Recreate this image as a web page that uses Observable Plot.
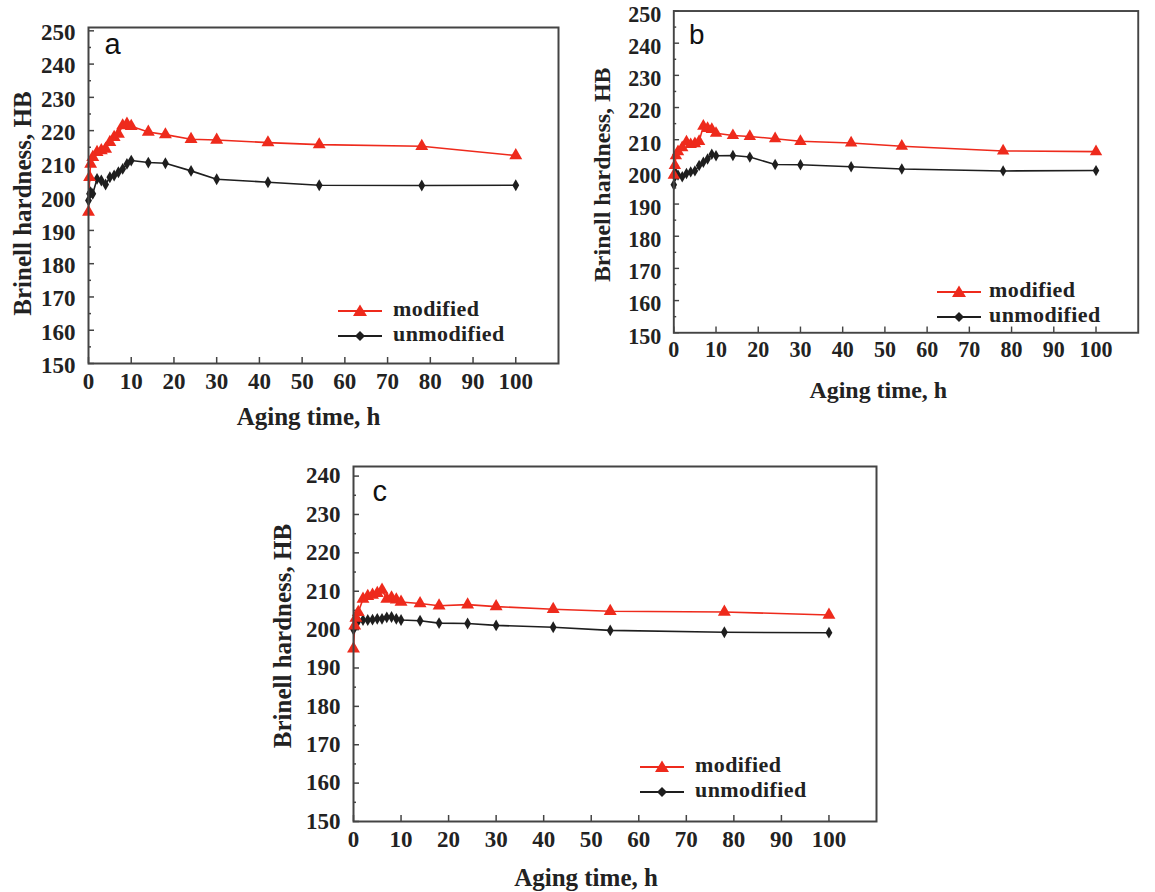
<!DOCTYPE html>
<html><head><meta charset="utf-8">
<script src="https://cdn.jsdelivr.net/npm/d3@7"></script>
<script src="https://cdn.jsdelivr.net/npm/@observablehq/plot@0.6"></script>
<style>
html,body{margin:0;padding:0;background:#fff;}
#wrap{position:relative;width:1155px;height:892px;overflow:hidden;background:#fff;}
.panel{position:absolute;}
.panel svg{display:block;}
.leg{position:absolute;font-family:"Liberation Serif","Times New Roman",serif;font-weight:bold;font-size:22px;letter-spacing:0.4px;color:#222;line-height:20px;height:20px;white-space:nowrap;}
.legsym{position:absolute;}
</style>
</head><body>
<div id="wrap"></div>
<script>
// ---- data ----
const times = [0, 0.25, 0.5, 1, 2, 3, 4, 5, 6, 7, 8, 9, 10, 14, 18, 24, 30, 42, 54, 78, 100];
const modifiedA   = [195.5, 206, 210, 212, 213.5, 214, 214.5, 216.5, 218, 219, 221.5, 222, 221.3, 219.6, 218.8, 217.4, 217.2, 216.4, 215.8, 215.3, 212.5];
const unmodifiedA = [199, 201, 201.5, 201, 205.5, 205, 203.8, 206, 206.5, 207.5, 208.5, 210, 211, 210.4, 210.2, 207.9, 205.4, 204.5, 203.6, 203.5, 203.6];
const modifiedB   = [199, 202, 205, 206.3, 207.5, 209.3, 208.5, 208.8, 209.5, 214.2, 213.5, 213.2, 212, 211.3, 211, 210.3, 209.5, 209, 208, 206.5, 206.3];
const unmodifiedB = [196, 198.5, 199.5, 199, 198.5, 199.5, 200, 200.3, 202, 203, 204, 205.5, 205, 205.1, 204.6, 202.3, 202.2, 201.6, 200.9, 200.3, 200.4];
const modifiedC   = [195, 201, 203, 204.5, 208, 208.7, 209, 209.5, 210.3, 208, 208.3, 207.8, 207.2, 206.8, 206.2, 206.5, 206, 205.3, 204.8, 204.6, 203.8];
const unmodifiedC = [200, 201, 202, 202.3, 202.5, 202.5, 202.6, 202.8, 202.8, 203.2, 203.3, 202.8, 202.5, 202.3, 201.7, 201.6, 201.1, 200.6, 199.8, 199.3, 199.2];
const xTicks   = [0, 10, 20, 30, 40, 50, 60, 70, 80, 90, 100];
const yTicksAB = [150, 160, 170, 180, 190, 200, 210, 220, 230, 240, 250];
const yTicksC  = [150, 160, 170, 180, 190, 200, 210, 220, 230, 240];
const seriesNames = ["modified", "unmodified"];
const xTitle = "Aging time, h";
const yTitle = "Brinell hardness, HB";

const RED = "#ee2a1c", BLACK = "#1e1e1e";
const serif = "'Liberation Serif','Times New Roman',serif";

function rows(vals){ return times.map((t,i)=>({t, v: vals[i]})); }

function panel(o){
  const plotW = o.width - o.ml - o.mr, plotH = o.height - o.mt - o.mb;
  const minor = o.yTicks.slice(0,-1).map(d=>d+5).filter(d=>d<o.yMax);
  const m = rows(o.mod), u = rows(o.unmod);
  const chart = Plot.plot({
    width: o.width, height: o.height,
    marginLeft: o.ml, marginRight: o.mr, marginTop: o.mt, marginBottom: o.mb,
    style: {fontFamily: serif, fontWeight: "bold", fontSize: "23px", color: "#222", background: "transparent", overflow: "visible"},
    x: {domain: [0, 110]},
    y: {domain: [150, o.yMax]},
    marks: [
      Plot.tickY(minor, {y: d=>d, insetRight: plotW - 3, stroke: "#444", strokeWidth: 1.5}),
      Plot.tickY(o.yTicks, {y: d=>d, insetRight: plotW - 6, stroke: "#444", strokeWidth: 1.5}),
      Plot.tickX(xTicks, {x: d=>d, insetTop: plotH - 6, stroke: "#444", strokeWidth: 1.5}),
      Plot.axisY(o.yTicks, {tickSize: 0, tickPadding: 13, label: null, fontSize: 23, dy: o.ylDy || 0}),
      Plot.axisX(xTicks, {tickSize: 0, tickPadding: 9, label: null, fontSize: 23}),
      Plot.line(u, {x: "t", y: "v", stroke: BLACK, strokeWidth: 1.6}),
      Plot.line(m, {x: "t", y: "v", stroke: RED, strokeWidth: 1.6}),
      Plot.dot(u, {x: "t", y: "v", symbol: "diamond", r: 3.6, fill: BLACK}),
      Plot.dot(m, {x: "t", y: "v", symbol: "triangle", r: 4.8, fill: RED}),
      Plot.frame({stroke: "#444", strokeWidth: 2}),
      Plot.text([o.letter], {text: d=>d, frameAnchor: "top-left", dx: o.letterDx, dy: o.letterDy, textAnchor: "start", lineAnchor: "middle",
        fontFamily: "'Liberation Sans',Arial,sans-serif", fontWeight: "normal", fontSize: 29, fill: "#111"}),
      Plot.text([xTitle], {text: d=>d, frameAnchor: "bottom", dx: o.xtDx, dy: o.xtDy, textAnchor: "middle", lineAnchor: "middle", fontSize: 25, fill: "#222"}),
      Plot.text([yTitle], {text: d=>d, frameAnchor: "left", rotate: -90, dx: o.ytDx, dy: o.ytDy, textAnchor: "middle", lineAnchor: "middle", fontSize: 25, fill: "#222"})
    ]
  });
  const div = document.createElement("div");
  div.className = "panel";
  div.style.left = o.left + "px"; div.style.top = o.top + "px";
  div.appendChild(chart);
  document.getElementById("wrap").appendChild(div);
}

function legend(lineX, y1, y2, textX){
  const wrap = document.getElementById("wrap");
  const ns = "http://www.w3.org/2000/svg";
  [[y1, RED, "tri", seriesNames[0]], [y2, BLACK, "dia", seriesNames[1]]].forEach(([y, col, sym, name])=>{
    const s = document.createElementNS(ns, "svg");
    s.setAttribute("width", 46); s.setAttribute("height", 16);
    s.setAttribute("class", "legsym");
    s.style.left = lineX + "px"; s.style.top = (y - 8) + "px";
    s.innerHTML = `<line x1="0" x2="44" y1="8" y2="8" stroke="${col}" stroke-width="1.8"/>` +
      (sym === "tri" ? `<polygon points="22,1.5 29,13 15,13" fill="${col}"/>` : `<polygon points="22,3 27,8 22,13 17,8" fill="${col}"/>`);
    wrap.appendChild(s);
    const t = document.createElement("div");
    t.className = "leg"; t.textContent = name;
    t.style.left = textX + "px"; t.style.top = (y - 12) + "px";
    wrap.appendChild(t);
  });
}

panel({left: 0, top: 0, width: 590, height: 440, ml: 88, mr: 32, mt: 27, mb: 77, yMax: 251, yTicks: yTicksAB,
  mod: modifiedA, unmod: unmodifiedA, letter: "a", letterDx: 16, letterDy: 17, xtDx: -15, xtDy: 53, ytDx: -66, ytDy: 8, ylDy: 2});
panel({left: 590, top: 0, width: 590, height: 430, ml: 87, mr: 18, mt: 11, mb: 83, yMax: 250, yTicks: yTicksAB,
  mod: modifiedB, unmod: unmodifiedB, letter: "b", letterDx: 16, letterDy: 25, xtDx: -29, xtDy: 60, ytDx: -75, ytDy: 3, ylDy: 4});
panel({left: 260, top: 450, width: 640, height: 442, ml: 93, mr: 24, mt: 16, mb: 71, yMax: 242.5, yTicks: yTicksC,
  mod: modifiedC, unmod: unmodifiedC, letter: "c", letterDx: 19, letterDy: 25, xtDx: -29, xtDy: 56, ytDx: -71, ytDy: -8, ylDy: 0});

legend(338, 311, 336, 393);
legend(937, 292, 317, 989);
legend(640, 767, 792, 695);
</script>
</body></html>
